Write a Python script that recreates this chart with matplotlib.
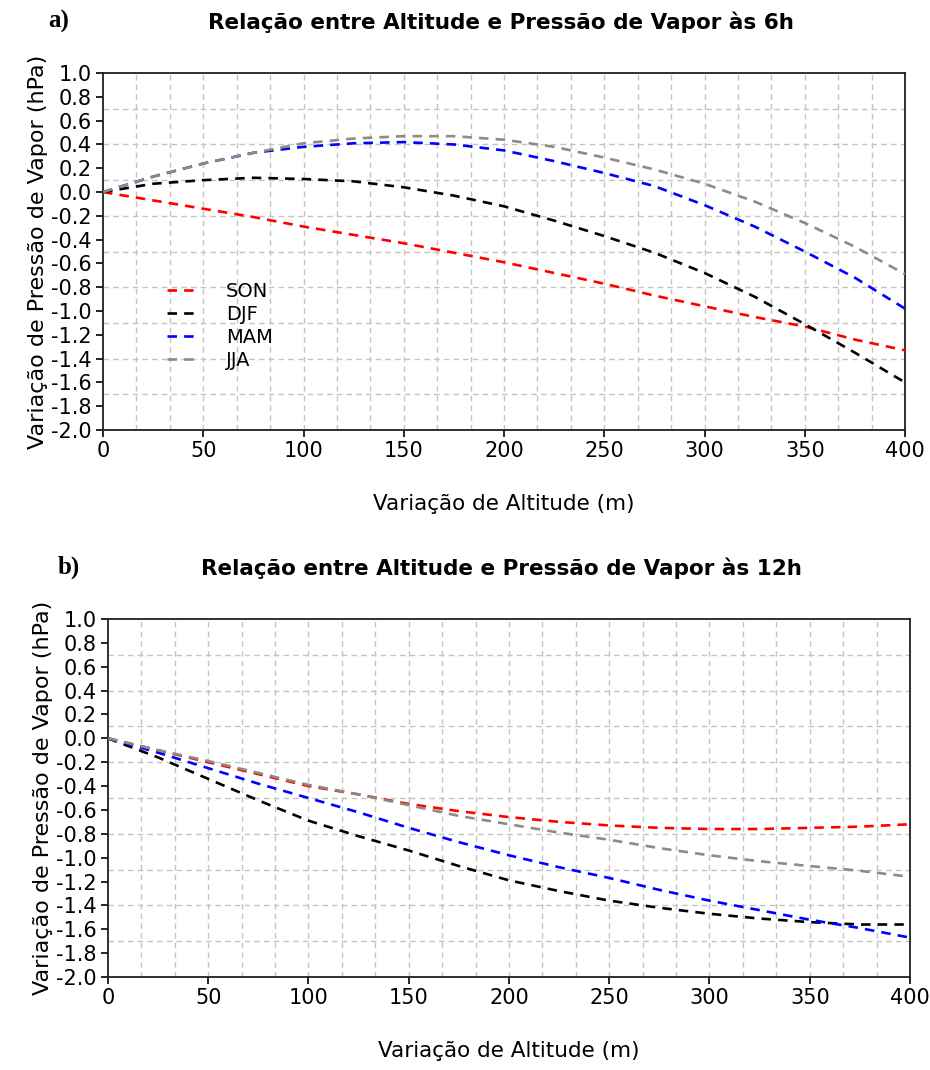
import matplotlib
matplotlib.use("Agg")
import matplotlib.pyplot as plt
import numpy as np

plt.rcParams["font.family"] = ["DejaVu Sans"]

# Altitude variation (m)
altitude = [0, 25, 50, 75, 100, 125, 150, 175, 200, 225, 250, 275, 300, 325, 350, 375, 400]

# a) 6h
son_6h = [0, -0.07, -0.14, -0.21, -0.29, -0.36, -0.43, -0.51, -0.59, -0.68, -0.77, -0.87, -0.96, -1.05, -1.13, -1.24, -1.33]
djf_6h = [0, 0.07, 0.10, 0.12, 0.11, 0.09, 0.04, -0.03, -0.12, -0.24, -0.37, -0.51, -0.68, -0.88, -1.11, -1.35, -1.60]
mam_6h = [0, 0.13, 0.24, 0.33, 0.38, 0.41, 0.42, 0.40, 0.35, 0.26, 0.16, 0.05, -0.11, -0.29, -0.50, -0.72, -0.98]
jja_6h = [0, 0.13, 0.24, 0.33, 0.41, 0.45, 0.47, 0.47, 0.44, 0.38, 0.29, 0.19, 0.07, -0.08, -0.26, -0.46, -0.69]

# b) 12h
son_12h = [0, -0.10, -0.20, -0.30, -0.40, -0.47, -0.55, -0.61, -0.66, -0.70, -0.73, -0.75, -0.76, -0.76, -0.75, -0.74, -0.72]
djf_12h = [0, -0.16, -0.34, -0.52, -0.69, -0.82, -0.94, -1.07, -1.19, -1.28, -1.36, -1.42, -1.47, -1.51, -1.54, -1.56, -1.56]
mam_12h = [0, -0.12, -0.25, -0.38, -0.50, -0.62, -0.75, -0.87, -0.98, -1.08, -1.17, -1.27, -1.36, -1.44, -1.52, -1.59, -1.67]
jja_12h = [0, -0.10, -0.19, -0.29, -0.39, -0.47, -0.56, -0.65, -0.72, -0.79, -0.85, -0.92, -0.98, -1.03, -1.07, -1.11, -1.16]

seasons = ["SON", "DJF", "MAM", "JJA"]
colors = {"SON": "#ff0000", "DJF": "#000000", "MAM": "#0000ff", "JJA": "#8c8c80"}

y_ticks = np.round(np.arange(-2.0, 1.01, 0.2), 1)
y_labels = [f"{v:.1f}".replace("-0.0", "0.0") for v in y_ticks]

panels = [
    ("a)", "Relação entre Altitude e Pressão de Vapor às 6h",
     [son_6h, djf_6h, mam_6h, jja_6h], [0.1108, 0.5981, 0.8624, 0.3336], True, 0.979, 0.052),
    ("b)", "Relação entre Altitude e Pressão de Vapor às 12h",
     [son_12h, djf_12h, mam_12h, jja_12h], [0.1161, 0.0869, 0.8624, 0.3346], False, 0.469, 0.062),
]

fig = plt.figure(figsize=(9.3, 10.7), dpi=100)

for letter, title, series, pos, show_legend, title_y, letter_x in panels:
    ax = fig.add_axes(pos)

    # dashed grid on its own divisions (24 x 10)
    for gx in np.linspace(0, 400, 25)[1:-1]:
        ax.axvline(gx, color="#c3c3c3", linestyle=(0, (4, 3)), lw=1.0, zorder=0)
    for gy in np.linspace(-2.0, 1.0, 11)[1:-1]:
        ax.axhline(gy, color="#c3c3c3", linestyle=(0, (4, 3)), lw=1.0, zorder=0)

    for name, vals in zip(seasons, series):
        ax.plot(altitude, vals, color=colors[name], lw=1.9, dashes=(3.6, 2.7), label=name, zorder=3)

    ax.set_xlim(0, 400)
    ax.set_ylim(-2.0, 1.0)
    ax.set_xticks(np.arange(0, 401, 50))
    ax.set_yticks(y_ticks)
    ax.set_yticklabels(y_labels)
    ax.tick_params(labelsize=15, length=5, width=1.2, direction="out", pad=3)
    for s in ax.spines.values():
        s.set_linewidth(1.3)
        s.set_color("#202020")

    ax.set_xlabel("Variação de Altitude (m)", fontsize=15.5, labelpad=24)
    ax.set_ylabel("Variação de Pressão de Vapor (hPa)", fontsize=16, labelpad=2)

    fig.text(0.539, title_y, title, fontsize=15.5, fontweight="bold", ha="center", va="center")
    fig.text(letter_x, title_y + 0.001, letter, fontsize=18, fontweight="bold",
             family="Liberation Serif", ha="left", va="center")

    if show_legend:
        ax.legend(loc="upper left", bbox_to_anchor=(0.068, 0.442), frameon=False,
                  fontsize=14, handlelength=1.7, handletextpad=1.3, labelspacing=0.2,
                  borderpad=0)

fig.savefig("out.png", dpi=100)
